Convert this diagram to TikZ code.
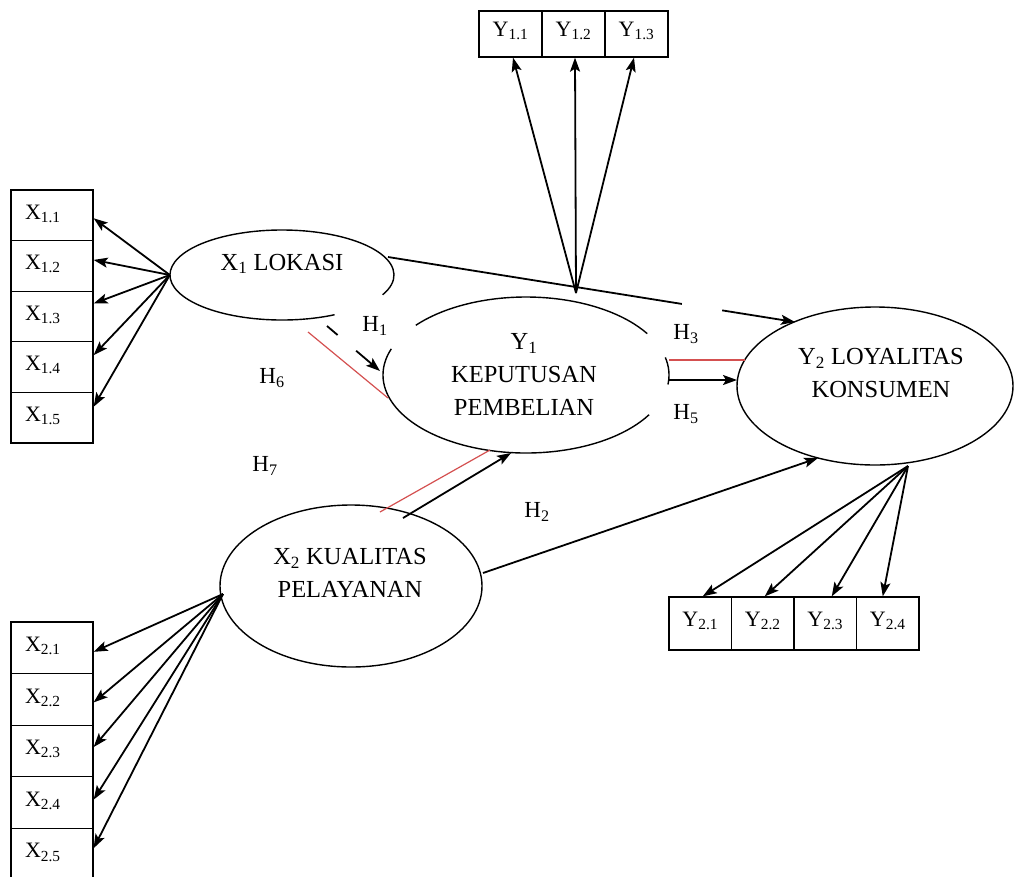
\documentclass[tikz,border=0pt]{standalone}
\usepackage{fontspec}
\setmainfont{Liberation Serif}
\usetikzlibrary{arrows.meta,calc,shapes.geometric}
\definecolor{hred}{RGB}{212,80,80}
\begin{document}
\begin{tikzpicture}[x=1pt,y=-1pt,
  lat/.style={shape=ellipse,inner sep=0pt,draw=none},
  ell/.style={line width=1.4pt},
  con/.style={line width=1.8pt},
  arr/.style={line width=1.8pt,-{Stealth[length=14pt,width=10pt,inset=3pt]}},
  rln/.style={line width=1.2pt,draw=hred},
  etxt/.style={font=\fontsize{24.5}{33}\selectfont,align=center,inner sep=0pt},
  htxt/.style={font=\fontsize{23}{23}\selectfont,inner sep=0pt},
  xbox/.style={draw,line width=1.3pt,minimum height=50.6pt,text width=54pt,inner xsep=14pt,inner ysep=0pt,align=left,font=\fontsize{22}{22}\selectfont,text depth=7pt},
  ybox/.style={draw,line width=1.3pt,inner sep=0pt,align=center,font=\fontsize{22}{22}\selectfont,text depth=9pt}]
\useasboundingbox (0,0) rectangle (1022,876);

% latent variable ellipses (named, outlines drawn as arcs)
\node[lat,minimum width=224pt,minimum height=90pt] (lok) at (282,275) {};
\node[lat,minimum width=286pt,minimum height=156pt] (kep) at (526,375) {};
\node[lat,minimum width=276pt,minimum height=158pt] (loy) at (875,386) {};
\node[lat,minimum width=262pt,minimum height=162pt] (kua) at (351,586) {};

\draw[ell] (lok.center) ++(62:112 and 45) arc[start angle=62,end angle=386,x radius=112,y radius=45];
\draw[ell] (kep.center) ++(30.6:143 and 78) arc[start angle=30.6,end angle=199.6,x radius=143,y radius=78];
\draw[ell] (kep.center) ++(219.6:143 and 78) arc[start angle=219.6,end angle=328,x radius=143,y radius=78];
\draw[ell] (kep.center) ++(347:143 and 78) arc[start angle=347,end angle=367,x radius=143,y radius=78];
\draw[ell] (loy.center) ellipse[x radius=138,y radius=79];
\draw[ell] (kua.center) ellipse[x radius=131,y radius=81];

% ellipse texts
\node[etxt] (lokt) at (282,264) {X\textsubscript{1} LOKASI};
\node[etxt] (kept) at (524,375) {Y\textsubscript{1}\\KEPUTUSAN\\PEMBELIAN};
\node[etxt] (loyt) at (881,373) {Y\textsubscript{2} LOYALITAS\\KONSUMEN};
\node[etxt] (kuat) at (350,573) {X\textsubscript{2} KUALITAS\\PELAYANAN};

% indicator boxes
\foreach \i in {1,...,5}
  \node[xbox] (xa\i) at (52,{215.3+(\i-1)*50.6}) {X\textsubscript{1.\i}};
\foreach \i in {1,...,5}
  \node[xbox,minimum height=51.6pt] (xb\i) at (52,{647.8+(\i-1)*51.6}) {X\textsubscript{2.\i}};
\foreach \i in {1,2,3}
  \node[ybox,minimum width=63pt,minimum height=46pt] (ya\i) at ({510.5+(\i-1)*63},34) {Y\textsubscript{1.\i}};
\foreach \i in {1,...,4}
  \node[ybox,minimum width=62.5pt,minimum height=53pt] (yb\i) at ({700.25+(\i-1)*62.5},623.5) {Y\textsubscript{2.\i}};

% connector end points
\coordinate (kuaL) at (223,594);
\coordinate (y1o) at (576,293);
\coordinate (y2o) at (908,466);
\coordinate (lokR) at (388,257);
\coordinate (loyA) at (795,322);
\coordinate (kepR1) at (669,360);
\coordinate (loyB) at (745,360);
\coordinate (kepR2) at (669,380);
\coordinate (loyC) at (737,380);
\coordinate (lokB) at (308,332);
\coordinate (kepL) at (388,398);
\coordinate (h1s) at (327,326);
\coordinate (h1e) at (380,371);
\coordinate (kuaT1) at (380,512);
\coordinate (kepB1) at (490,450);
\coordinate (kuaT2) at (403,518);
\coordinate (kepB2) at (511,453);
\coordinate (kuaR) at (483,573);
\coordinate (loyD) at (818,458);

% loadings
\foreach \i/\s in {1/-3,2/6,3/13,4/12,5/11}
  \draw[arr] (lok.west) -- ([yshift=\s pt]xa\i.east);
\foreach \i/\s in {1/-4,2/-3,3/4,4/3,5/6}
  \draw[arr] (kuaL) -- ([yshift=\s pt]xb\i.east);
\foreach \i/\s in {1/2.5,2/1.5,3/-2.5}
  \draw[arr] (y1o) -- ([xshift=\s pt]ya\i.south);
\foreach \i/\s in {1/2.5,2/2,3/6.5,4/-5}
  \draw[arr] (y2o) -- ([xshift=\s pt]yb\i.north);

% structural paths
\draw[con] (lokR) -- ($(lokR)!0.722!(loyA)$);
\draw[arr] ($(lokR)!0.821!(loyA)$) -- (loyA);
\draw[rln] (kepR1) -- (loyB);
\draw[arr] (kepR2) -- (loyC);
\draw[rln] (lokB) -- (kepL);
\draw[con] (h1s) -- ($(h1s)!0.2!(h1e)$);
\draw[arr] ($(h1s)!0.55!(h1e)$) -- (h1e);
\draw[rln] (kuaT1) -- (kepB1);
\draw[arr] (kuaT2) -- (kepB2);
\draw[arr] (kuaR) -- (loyD);

% hypothesis labels
\node[htxt] (h1) at (375,326) {H\textsubscript{1}};
\node[htxt] (h6) at (272,378) {H\textsubscript{6}};
\node[htxt] (h7) at (265,466) {H\textsubscript{7}};
\node[htxt] (h2) at (537,512) {H\textsubscript{2}};
\node[htxt] (h3) at (686,334) {H\textsubscript{3}};
\node[htxt] (h5) at (686,414) {H\textsubscript{5}};
\end{tikzpicture}
\end{document}
